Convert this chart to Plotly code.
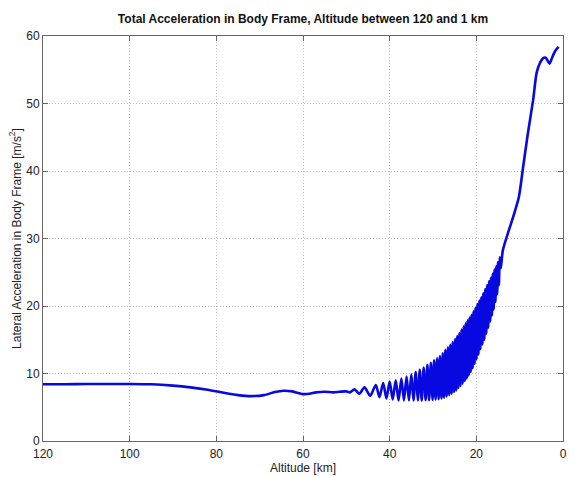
import plotly.graph_objects as go

# Smooth part of the profile at high altitude (km -> m/s^2)
upper_alt = [120, 115, 110, 105, 100, 95, 90, 86, 82, 78, 75, 72, 69, 66.5, 64.5,
             62.5, 60, 58.5, 57, 55, 53, 51.5, 50, 49.2]
upper_val = [8.4, 8.4, 8.45, 8.45, 8.45, 8.4, 8.2, 7.95, 7.6, 7.1, 6.8, 6.65, 6.8, 7.25, 7.45,
             7.35, 6.95, 7.0, 7.2, 7.3, 7.2, 7.3, 7.35, 7.2]

# Oscillating section: local maxima ...
peak_alt = [48.1, 45.8, 43.2, 41.5, 40.0, 38.6, 37.3, 36.1, 35.0, 34.0, 33.05, 32.15,
            31.3, 30.5, 29.75, 29.05, 28.4, 27.75, 27.15, 26.55, 26.0, 25.45, 24.9, 24.4,
            23.9, 23.4, 22.9, 22.45, 22.0, 21.55, 21.1, 20.65, 20.2, 19.75, 19.3, 18.85,
            18.4, 17.95, 17.5, 17.05, 16.6, 16.2, 15.8, 15.4, 15.0, 14.6]
peak_val = [7.65, 7.95, 8.3, 8.6, 8.8, 9.0, 9.25, 9.55, 9.9, 10.2, 10.55, 10.9,
            11.3, 11.6, 11.95, 12.25, 12.6, 13.0, 13.5, 13.9, 14.25, 14.65, 15.1, 15.55,
            16.0, 16.5, 17.0, 17.45, 17.9, 18.3, 18.7, 19.2, 19.75, 20.3, 20.8, 21.3,
            21.9, 22.5, 23.1, 23.7, 24.2, 24.8, 25.4, 25.9, 26.5, 27.2]
# ... and local minima
trough_alt = [47.0, 44.5, 42.35, 40.75, 39.3, 37.95, 36.7, 35.55, 34.5, 33.5, 32.6, 31.7,
              30.9, 30.1, 29.4, 28.7, 28.05, 27.45, 26.85, 26.25, 25.7, 25.15, 24.65, 24.15,
              23.65, 23.15, 22.65, 22.2, 21.75, 21.3, 20.85, 20.4, 19.95, 19.5, 19.05, 18.6,
              18.15, 17.7, 17.25, 16.8, 16.4, 16.0, 15.6, 15.2, 14.8, 14.35]
trough_val = [7.0, 6.7, 6.5, 6.3, 6.15, 6.0, 6.0, 6.0, 6.0, 6.0, 6.0, 6.05,
              6.05, 6.1, 6.15, 6.2, 6.3, 6.4, 6.6, 6.8, 7.0, 7.25, 7.5, 7.85,
              8.15, 8.5, 8.9, 9.25, 9.7, 10.2, 10.75, 11.4, 12.1, 12.8, 13.6, 14.3,
              15.0, 15.9, 16.8, 17.7, 18.6, 19.5, 20.6, 21.7, 23.1, 25.6]

# Final climb at low altitude
lower_alt = [13.9, 12.5, 11.5, 10.2, 9.2, 8.1, 6.9, 6.1, 5.4, 4.6, 4.0, 3.6, 3.1, 2.8, 2.45, 1.7, 1.0]
lower_val = [28.2, 31.2, 33.2, 36.1, 40.6, 45.6, 50.5, 54.5, 55.9, 56.7, 56.8, 56.4, 55.9, 56.3, 56.9, 57.9, 58.4]

osc_alt, osc_val = [], []
for pa, pv, ta, tv in zip(peak_alt, peak_val, trough_alt, trough_val):
    osc_alt += [pa, ta]
    osc_val += [pv, tv]

alt = upper_alt + osc_alt + lower_alt
acc = upper_val + osc_val + lower_val

fig = go.Figure(go.Scatter(
    x=alt, y=acc, mode="lines",
    line=dict(color="rgb(8,8,225)", width=2.6, shape="spline", smoothing=0.7),
    hoverinfo="skip",
))

font_family = "Liberation Sans, Arial, sans-serif"
axis_common = dict(
    showline=True, linecolor="#666666", linewidth=1, mirror="ticks",
    ticks="inside", ticklen=5, tickcolor="#666666",
    showgrid=True, gridcolor="#bdbdbd", griddash="1px,2px", gridwidth=1,
    zeroline=False, automargin=False,
    tickfont=dict(family=font_family, size=12, color="#222222"),
)

fig.update_xaxes(range=[120, 0], tickvals=[120, 100, 80, 60, 40, 20, 0],
                 ticklabelstandoff=2,
                 title=dict(text="Altitude [km]", standoff=2,
                            font=dict(family=font_family, size=12, color="#222222")),
                 **axis_common)
fig.update_yaxes(range=[0, 60], tickvals=[0, 10, 20, 30, 40, 50, 60],
                 title=dict(text="Lateral Acceleration in Body Frame [m/s<sup>2</sup>]", standoff=2,
                            font=dict(family=font_family, size=12, color="#222222")),
                 **axis_common)

fig.update_layout(
    width=575, height=477,
    margin=dict(l=43, r=12, t=36, b=36),
    paper_bgcolor="white", plot_bgcolor="white",
    showlegend=False,
    title=dict(text="<b>Total Acceleration in Body Frame, Altitude between 120 and 1 km</b>",
               x=0.527, xanchor="center", y=0.96, yanchor="middle",
               font=dict(family=font_family, size=12, color="#111111")),
)

fig.write_html("out.html")
